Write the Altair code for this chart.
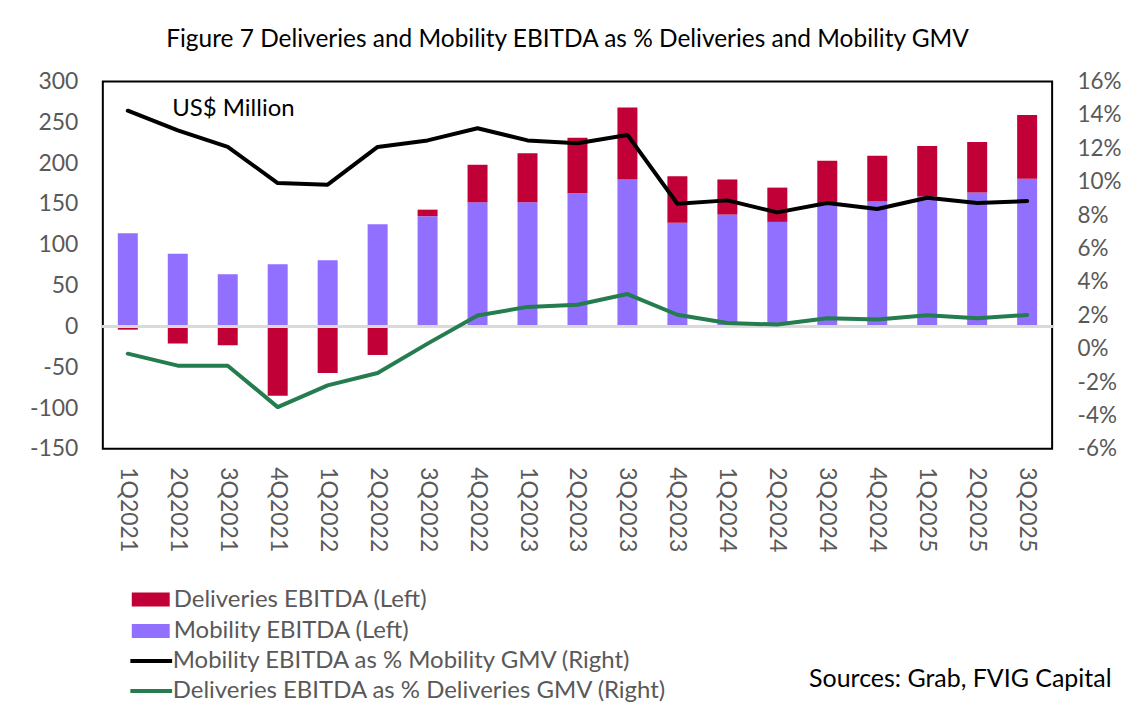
import altair as alt
import pandas as pd

quarters = ["1Q2021", "2Q2021", "3Q2021", "4Q2021", "1Q2022", "2Q2022", "3Q2022",
            "4Q2022", "1Q2023", "2Q2023", "3Q2023", "4Q2023", "1Q2024", "2Q2024",
            "3Q2024", "4Q2024", "1Q2025", "2Q2025", "3Q2025"]
mobility_ebitda = [114, 89, 64, 76, 81, 125, 135, 152, 152, 163, 180, 127, 137, 128,
                   149, 153, 159, 164, 181]
deliveries_ebitda = [-4, -21, -23, -85, -57, -35, 8, 46, 60, 68, 88, 57, 43, 42,
                     54, 56, 62, 62, 78]
mobility_pct = [14.25, 13.07, 12.08, 9.92, 9.82, 12.08, 12.47, 13.2, 12.47, 12.3, 12.8,
                8.68, 8.88, 8.16, 8.72, 8.36, 9.04, 8.72, 8.84]
deliveries_pct = [-0.3, -1.02, -1.02, -3.5, -2.2, -1.46, 0.3, 1.98, 2.5, 2.63, 3.27,
                  2.03, 1.54, 1.44, 1.82, 1.74, 2.0, 1.82, 2.02]
left_ticks = [-150, -100, -50, 0, 50, 100, 150, 200, 250, 300]
right_ticks = [-0.06, -0.04, -0.02, 0.0, 0.02, 0.04, 0.06, 0.08, 0.10, 0.12, 0.14, 0.16]

BAR_DEL = "Deliveries EBITDA (Left)"
BAR_MOB = "Mobility EBITDA (Left)"
LINE_MOB = "Mobility EBITDA as % Mobility GMV (Right)"
LINE_DEL = "Deliveries EBITDA as % Deliveries GMV (Right)"

bars_df = pd.DataFrame(
    [{"q": q, "series": BAR_MOB, "value": m, "ord": 0} for q, m in zip(quarters, mobility_ebitda)]
    + [{"q": q, "series": BAR_DEL, "value": d, "ord": 1} for q, d in zip(quarters, deliveries_ebitda)]
)
lines_df = pd.DataFrame(
    [{"q": q, "series": LINE_MOB, "pct": p / 100} for q, p in zip(quarters, mobility_pct)]
    + [{"q": q, "series": LINE_DEL, "pct": p / 100} for q, p in zip(quarters, deliveries_pct)]
)

FONT = "Lato"
GRAY = "#595959"
MINUS_FIX = "replace(datum.label, '\u2212', '-')"

x_enc = alt.X(
    "q:N",
    sort=quarters,
    scale=alt.Scale(paddingInner=0.6, paddingOuter=0.3),
    axis=alt.Axis(
        labelAngle=90, labelPadding=18, ticks=False, domain=False,
        labelFontSize=23, labelColor=GRAY, labelFont=FONT,
        title="Sources: Grab, FVIG Capital", titleX=1010, titleY=238,
        titleAngle=0, titleAlign="right", titleBaseline="alphabetic",
        titleFontSize=25, titleFont=FONT, titleFontWeight="normal", titleColor="black",
    ),
)

left_axis = alt.Axis(
    values=left_ticks, ticks=False, domain=False, grid=False,
    labelPadding=25, labelFontSize=23, labelColor=GRAY, labelFont=FONT,
    labelExpr=MINUS_FIX,
    title="US$ Million", titleAngle=0, titleX=69, titleY=34, titleAlign="left",
    titleBaseline="alphabetic", titleFontSize=24, titleFont=FONT,
    titleFontWeight="normal", titleColor="black",
)

bars = alt.Chart(bars_df).mark_bar().encode(
    x=x_enc,
    y=alt.Y("value:Q", stack="zero", scale=alt.Scale(domain=[-150, 300], nice=False),
            axis=left_axis),
    color=alt.Color(
        "series:N",
        scale=alt.Scale(domain=[BAR_DEL, BAR_MOB], range=["#C00037", "#916FFF"]),
        legend=alt.Legend(
            title=None, orient="none", legendX=29, legendY=500, padding=0,
            symbolType="M-1,-0.37L1,-0.37L1,0.37L-1,0.37Z", symbolSize=1444,
            symbolStrokeWidth=0, labelFont=FONT, labelFontSize=24, labelColor=GRAY,
            labelLimit=0, labelOffset=4, rowPadding=0.5,
        ),
    ),
    order=alt.Order("ord:Q"),
)

zero = alt.Chart(bars_df).mark_rule(color="#d9d9d9", strokeWidth=2).encode(
    y=alt.Y(datum=0)
)

lines = alt.Chart(lines_df).mark_line(strokeWidth=4, strokeJoin="round", strokeCap="round").encode(
    x=alt.X("q:N", sort=quarters, bandPosition=0.5),
    y=alt.Y(
        "pct:Q",
        scale=alt.Scale(domain=[-0.06, 0.16], nice=False),
        axis=alt.Axis(
            orient="right", values=right_ticks,
            format=".0%", labelExpr=MINUS_FIX, ticks=False, domain=False, grid=False,
            labelPadding=25, labelFontSize=22.5, labelColor=GRAY, labelFont=FONT,
            title=None,
        ),
    ),
    color=alt.Color(
        "series:N",
        scale=alt.Scale(domain=[LINE_MOB, LINE_DEL], range=["#000000", "#247C4F"]),
        legend=alt.Legend(
            title=None, orient="none", legendX=31, legendY=563, padding=0,
            symbolType="M-1.35,0L1.35,0", symbolSize=961, symbolStrokeWidth=4,
            labelFont=FONT, labelFontSize=24, labelColor=GRAY,
            labelLimit=0, labelOffset=4, rowPadding=0,
        ),
    ),
)

chart = (
    alt.layer(alt.layer(bars, zero), lines)
    .resolve_scale(y="independent", color="independent")
    .properties(
        width=951, height=368,
        padding={"left": 21, "top": 18, "right": 0, "bottom": 0},
        title=alt.TitleParams(
            "Figure 7 Deliveries and Mobility EBITDA as % Deliveries and Mobility GMV",
            font=FONT, fontSize=24.5, fontWeight="normal", color="black",
            anchor="middle", offset=18.5, dx=-10,
        ),
    )
    .configure(font=FONT)
    .configure_view(stroke="black", strokeWidth=2)
)

chart.save("out.html", embed_options={"renderer": "svg", "actions": False})
